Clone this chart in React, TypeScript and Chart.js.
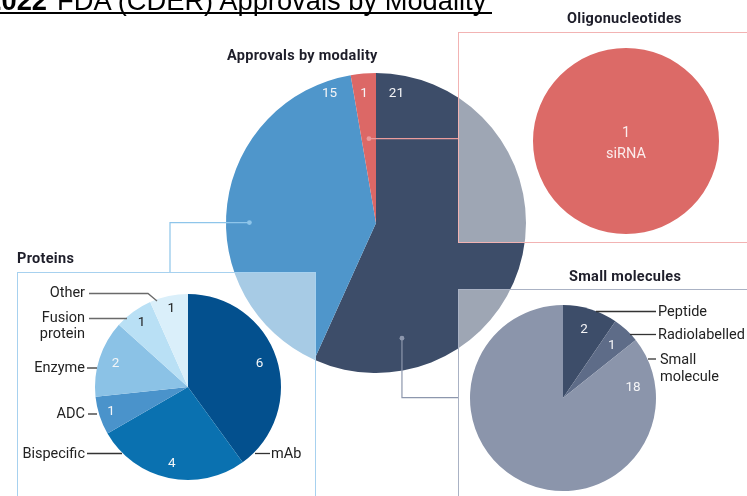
import React, { useEffect, useRef } from "react";
import { Chart, registerables } from "chart.js";
Chart.register(...registerables);

// ---------- data ----------
const modalityLabels = ["Small molecules", "Proteins", "Oligonucleotides"];
const modalityValues = [21, 15, 1];
const modalityColors = ["#3d4d69", "#4f96cb", "#dc6866"];

const proteinLabels = ["mAb", "Bispecific", "ADC", "Enzyme", "Fusion protein", "Other"];
const proteinValues = [6, 4, 1, 2, 1, 1];
const proteinColors = ["#03508e", "#0a71b0", "#4a93cb", "#8bc2e6", "#b9e0f5", "#daeffa"];

const smallLabels = ["Peptide", "Radiolabelled", "Small molecule"];
const smallValues = [2, 1, 18];
const smallColors = ["#3d4d69", "#5e6c88", "#8b95ab"];

const oligoLabels = ["siRNA"];
const oligoValues = [1];
const oligoColors = ["#dc6a67"];

type Pos = { a: number | null; r: number; color: string };

const W = 747;
const H = 496;
const NUM_FONT = "13.5px Roboto, 'Liberation Sans', sans-serif";

type PieProps = {
  left: number;
  top: number;
  width: number;
  height: number;
  padding: { left: number; top: number; right: number; bottom: number };
  labels: string[];
  values: number[];
  colors: string[];
  pos: Pos[];
  showNames?: boolean;
  lineGap?: number;
  textDy?: number;
  font?: string;
  before?: (chart: any, ctx: CanvasRenderingContext2D) => void;
  after?: (chart: any, ctx: CanvasRenderingContext2D) => void;
  z: number;
};

function arcPoint(arc: any, aDeg: number | null, rFrac: number) {
  const p = arc.getProps(["x", "y", "startAngle", "endAngle", "outerRadius"], true);
  const ang = aDeg == null ? (p.startAngle + p.endAngle) / 2 : ((aDeg - 90) * Math.PI) / 180;
  const rr = rFrac * p.outerRadius;
  return { x: p.x + Math.cos(ang) * rr, y: p.y + Math.sin(ang) * rr };
}

function PieCanvas(props: PieProps) {
  const ref = useRef<HTMLCanvasElement>(null);
  useEffect(() => {
    const { labels, values, colors, pos } = props;
    const plugin = {
      id: "sliceText",
      afterDatasetsDraw(chart: any) {
        const ctx = chart.ctx as CanvasRenderingContext2D;
        if (props.before) props.before(chart, ctx);
        const meta = chart.getDatasetMeta(0);
        ctx.save();
        ctx.font = props.font ?? NUM_FONT;
        ctx.textAlign = "center";
        ctx.textBaseline = "middle";
        meta.data.forEach((arc: any, i: number) => {
          const pt = arcPoint(arc, pos[i].a, pos[i].r);
          ctx.fillStyle = pos[i].color;
          const lines = props.showNames ? [String(values[i]), labels[i]] : [String(values[i])];
          const gap = props.lineGap ?? 16;
          lines.forEach((t, k) => {
            ctx.fillText(t, pt.x, pt.y + (props.textDy ?? 0) + (k - (lines.length - 1) / 2) * gap);
          });
        });
        ctx.restore();
        if (props.after) props.after(chart, ctx);
      },
    };
    const chart = new Chart(ref.current!, {
      type: "pie",
      data: {
        labels,
        datasets: [
          {
            data: values,
            backgroundColor: colors,
            borderWidth: 0,
            hoverOffset: 0,
            offset: 0,
          } as any,
        ],
      },
      options: {
        animation: false,
        responsive: false,
        devicePixelRatio: 1,
        events: [],
        layout: { padding: props.padding },
        plugins: { legend: { display: false }, tooltip: { enabled: false }, title: { display: false } },
      },
      plugins: [plugin],
    });
    return () => chart.destroy();
  }, []);
  return (
    <canvas
      ref={ref}
      width={props.width}
      height={props.height}
      style={{ position: "absolute", left: props.left, top: props.top, width: props.width, height: props.height, zIndex: props.z }}
    />
  );
}

function line(ctx: CanvasRenderingContext2D, pts: number[][], color: string, ox: number, oy: number, w = 1.2) {
  ctx.save();
  ctx.strokeStyle = color;
  ctx.lineWidth = w;
  ctx.beginPath();
  pts.forEach((p, i) => {
    if (i === 0) ctx.moveTo(p[0] - ox, p[1] - oy);
    else ctx.lineTo(p[0] - ox, p[1] - oy);
  });
  ctx.stroke();
  ctx.restore();
}

// boxes & connectors for the main chart (page coordinates)
const boxes = [
  { x: 17.5, y: 272.5, w: 298, h: 260, color: "#a7d1ef" },
  { x: 458.5, y: 32.5, w: 320, h: 210, color: "#f2b3b3" },
  { x: 458.5, y: 289.5, w: 320, h: 240, color: "#aab2c4" },
];
const connectors = [
  { index: 2, a: 355.2, r: 0.564, steps: [{ x: 458 }], color: "#eb9c9c" },
  { index: 1, a: 270.2, r: 0.844, steps: [{ x: 170 }, { y: 272 }], color: "#8ec5ea" },
  { index: 0, a: 167.3, r: 0.787, steps: [{ y: 397.7 }, { x: 458 }], color: "#8d97ad" },
];

function drawMainExtras(chart: any, ctx: CanvasRenderingContext2D) {
  ctx.save();
  boxes.forEach((b) => {
    ctx.fillStyle = "rgba(255,255,255,0.5)";
    ctx.fillRect(b.x, b.y, b.w, b.h);
    ctx.strokeStyle = b.color;
    ctx.lineWidth = 1;
    ctx.strokeRect(b.x, b.y, b.w, b.h);
  });
  const meta = chart.getDatasetMeta(0);
  connectors.forEach((c) => {
    const p = arcPoint(meta.data[c.index], c.a, c.r);
    const pts: number[][] = [[p.x, p.y]];
    let cx = p.x,
      cy = p.y;
    c.steps.forEach((s: any) => {
      if (s.x !== undefined) cx = s.x;
      if (s.y !== undefined) cy = s.y;
      pts.push([cx, cy]);
    });
    line(ctx, pts, c.color, 0, 0, 1.2);
    ctx.fillStyle = c.color;
    ctx.beginPath();
    ctx.arc(p.x, p.y, 2.4, 0, Math.PI * 2);
    ctx.fill();
  });
  ctx.restore();
}

const PROT_OX = 0,
  PROT_OY = 260;
const proteinLeaders = [
  [[89, 293.5], [148, 293.5], [157, 301]],
  [[89, 318.5], [127, 318.5]],
  [[87, 368], [97, 368]],
  [[88, 414], [97, 414]],
  [[87, 453.5], [122, 453.5]],
  [[255, 453.5], [270, 453.5]],
];
const SM_OX = 460,
  SM_OY = 262;
const smallLeaders = [
  [[596, 311.5], [656, 311.5]],
  [[630, 334.5], [656, 334.5]],
  [[648, 359], [656, 359]],
];

const headFont: React.CSSProperties = {
  position: "absolute",
  fontFamily: "Roboto, 'Liberation Sans', sans-serif",
  fontWeight: 700,
  fontSize: 14.5,
  letterSpacing: 0.3,
  lineHeight: "16px",
  color: "#1e1e2a",
  whiteSpace: "nowrap",
  zIndex: 10,
};
const labFont: React.CSSProperties = {
  position: "absolute",
  fontFamily: "Roboto, 'Liberation Sans', sans-serif",
  fontSize: 14.5,
  lineHeight: "16px",
  color: "#222",
  whiteSpace: "nowrap",
  zIndex: 10,
};

function RLabel({ x, cy, lines, lh = 16 }: { x: number; cy: number; lines: string[]; lh?: number }) {
  return (
    <div style={{ ...labFont, lineHeight: lh + "px", right: W - x, top: cy - (lines.length * lh) / 2, textAlign: "right" }}>
      {lines.map((t, i) => (
        <div key={i}>{t}</div>
      ))}
    </div>
  );
}
function LLabel({ x, cy, lines, lh = 16 }: { x: number; cy: number; lines: string[]; lh?: number }) {
  return (
    <div style={{ ...labFont, lineHeight: lh + "px", left: x, top: cy - (lines.length * lh) / 2, textAlign: "left" }}>
      {lines.map((t, i) => (
        <div key={i}>{t}</div>
      ))}
    </div>
  );
}

export default function App() {
  const titleStyle: React.CSSProperties = {
    position: "absolute",
    top: -12.6,
    fontFamily: "'Liberation Sans', Arial, sans-serif",
    fontSize: 27.3,
    lineHeight: "27.3px",
    color: "#000",
    whiteSpace: "nowrap",
    zIndex: 10,
  };
  return (
    <div style={{ position: "fixed", left: 0, top: 0, width: W, height: H, overflow: "hidden", background: "#fff" }}>
      <span style={{ ...titleStyle, right: W - 47, fontWeight: 700 }}>2022</span>
      <span style={{ ...titleStyle, left: 57 }}>FDA (CDER) Approvals by Modality</span>
      <div style={{ position: "absolute", left: 0, top: 12, width: 492, height: 2, background: "#000", zIndex: 10 }} />

      <PieCanvas
        left={0}
        top={0}
        width={W}
        height={H}
        padding={{ left: 226, top: 73, right: W - 526, bottom: H - 373 }}
        labels={modalityLabels}
        values={modalityValues}
        colors={modalityColors}
        pos={[
          { a: 9.0, r: 0.872, color: "#f4f4f6" },
          { a: 340.2, r: 0.915, color: "#f4f4f6" },
          { a: 354.7, r: 0.865, color: "#f4f4f6" },
        ]}
        before={drawMainExtras}
        z={1}
      />

      <PieCanvas
        left={PROT_OX}
        top={PROT_OY}
        width={330}
        height={236}
        padding={{ left: 95, top: 34, right: 330 - 95 - 186, bottom: 236 - 34 - 186 }}
        labels={proteinLabels}
        values={proteinValues}
        colors={proteinColors}
        pos={[
          { a: null, r: 0.81, color: "#f4f6f8" },
          { a: null, r: 0.84, color: "#f4f6f8" },
          { a: null, r: 0.87, color: "#f4f6f8" },
          { a: null, r: 0.82, color: "#f4f6f8" },
          { a: null, r: 0.85, color: "#1c1c1c" },
          { a: null, r: 0.86, color: "#1c1c1c" },
        ]}
        after={(chart, ctx) => {
          proteinLeaders.forEach((l, i) => line(ctx, l, i < 2 ? "#6a6a6a" : "#333", PROT_OX, PROT_OY, 1.3));
        }}
        z={2}
      />

      <PieCanvas
        left={SM_OX}
        top={SM_OY}
        width={287}
        height={234}
        padding={{ left: 10, top: 43, right: 287 - 10 - 186, bottom: 234 - 43 - 186 }}
        labels={smallLabels}
        values={smallValues}
        colors={smallColors}
        pos={[
          { a: null, r: 0.77, color: "#f4f4f6" },
          { a: null, r: 0.77, color: "#f4f4f6" },
          { a: 81.9, r: 0.76, color: "#f4f4f6" },
        ]}
        after={(chart, ctx) => {
          smallLeaders.forEach((l) => line(ctx, l, "#333", SM_OX, SM_OY, 1.3));
        }}
        z={2}
      />

      <PieCanvas
        left={533}
        top={48}
        width={186}
        height={186}
        padding={{ left: 0, top: 0, right: 0, bottom: 0 }}
        labels={oligoLabels}
        values={oligoValues}
        colors={oligoColors}
        pos={[{ a: null, r: 0, color: "#fbecec" }]}
        showNames
        lineGap={21}
        textDy={3}
        font="14.5px Roboto, 'Liberation Sans', sans-serif"
        z={2}
      />

      <div style={{ ...headFont, left: 227, top: 56 - 8 }}>Approvals by modality</div>
      <div style={{ ...headFont, left: 567, top: 19 - 8 }}>Oligonucleotides</div>
      <div style={{ ...headFont, left: 17, top: 259 - 8 }}>Proteins</div>
      <div style={{ ...headFont, left: 569, top: 277 - 8 }}>Small molecules</div>

      <RLabel x={85} cy={293.3} lines={["Other"]} />
      <RLabel x={85} cy={326.3} lines={["Fusion", "protein"]} />
      <RLabel x={85} cy={368.3} lines={["Enzyme"]} />
      <RLabel x={85} cy={414} lines={["ADC"]} />
      <RLabel x={85} cy={453.5} lines={["Bispecific"]} />
      <LLabel x={271} cy={453.8} lines={["mAb"]} />

      <LLabel x={658} cy={311.7} lines={["Peptide"]} />
      <LLabel x={658} cy={335} lines={["Radiolabelled"]} />
      <LLabel x={660} cy={368} lines={["Small", "molecule"]} lh={17.5} />
    </div>
  );
}
